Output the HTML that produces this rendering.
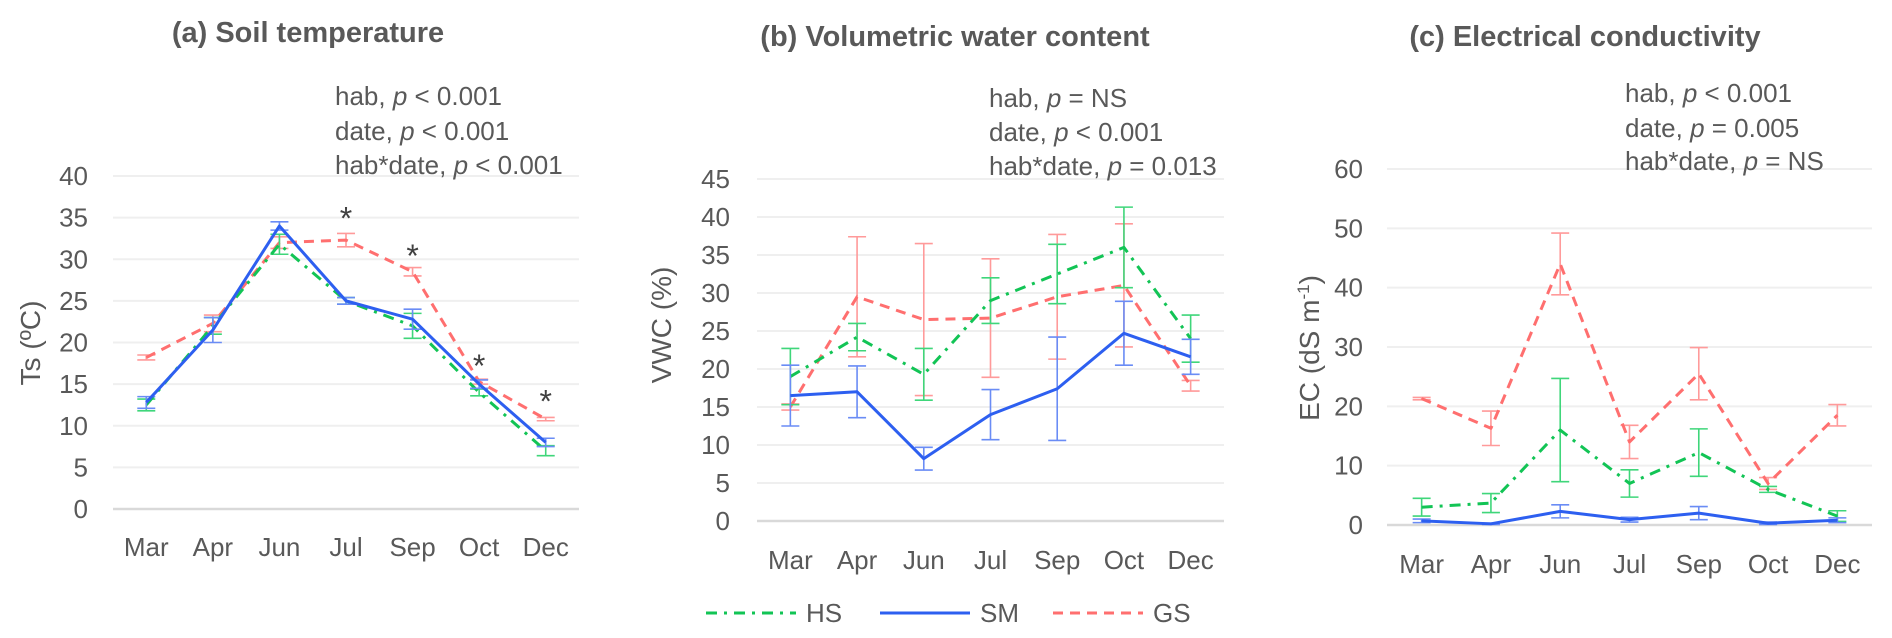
<!DOCTYPE html>
<html><head><meta charset="utf-8">
<style>
html,body{margin:0;padding:0;background:#fff;}
svg{display:block;font-family:"Liberation Sans",sans-serif;}
</style></head>
<body>
<svg id="fig" width="1892" height="638" viewBox="0 0 1892 638" xmlns="http://www.w3.org/2000/svg"></svg>
<script>
const months = ["Mar","Apr","Jun","Jul","Sep","Oct","Dec"];
// Panel a: soil temperature
const tsHS = [12.5,22,31.8,25,22,14,7];
const tsHSerr = [0.7,1,1.2,0.4,1.5,0.4,0.6];
const tsSM = [12.8,21.5,34,25,22.8,15,8];
const tsSMerr = [0.7,1.5,0.5,0.4,1.2,0.5,0.5];
const tsGS = [18.2,22.3,32,32.3,28.5,15.3,10.8];
const tsGSerr = [0.3,1,0.7,0.8,0.5,0.3,0.2];
const tsStars = [null,null,null,35.5,31,17.8,13.5];
const tsTicks = [0,5,10,15,20,25,30,35,40];
// Panel b: VWC
const vwcHS = [19,24.2,19.3,29,32.5,36,24];
const vwcHSerr = [3.7,1.8,3.4,3,3.9,5.3,3.1];
const vwcSM = [16.5,17,8.2,14,17.4,24.7,21.6];
const vwcSMerr = [4,3.4,1.5,3.3,6.8,4.2,2.3];
const vwcGS = [15,29.5,26.5,26.7,29.5,31,17.8];
const vwcGSerr = [0.4,7.9,10,7.8,8.2,8.1,0.7];
const vwcTicks = [0,5,10,15,20,25,30,35,40,45];
// Panel c: EC
const ecHS = [3,3.7,16,7,12.2,6,1.5];
const ecHSerr = [1.5,1.6,8.7,2.3,4,0.5,0.9];
const ecSM = [0.7,0.2,2.3,0.9,2,0.3,0.8];
const ecSMerr = [0.3,0.1,1.1,0.4,1.1,0.2,0.4];
const ecGS = [21.3,16.3,44,14,25.5,7,18.5];
const ecGSerr = [0.2,2.9,5.2,2.8,4.4,1,1.8];
const ecTicks = [0,10,20,30,40,50,60];
const legendKeys = ["HS","SM","GS"];

const NS = "http://www.w3.org/2000/svg";
const svg = document.getElementById("fig");
const TXT = "#595959";
const COL = {HS:"#12c455", SM:"#2d5ff0", GS:"#ff6f6f"};
const ERRCOL = {HS:"#3fd67a", SM:"#6a8cf5", GS:"#ff9a9a"};
const DASH = {HS:"11 7 3 7", SM:"", GS:"10 7"};
const FT = 26;

function mk(tag, attrs, parent){
  const e = document.createElementNS(NS, tag);
  for (const k in attrs) e.setAttribute(k, attrs[k]);
  (parent||svg).appendChild(e);
  return e;
}
const P = "<tspan font-style='italic'>p</tspan>";

function panel(cfg){
  const g = mk("g", {});
  
  
  const n = months.length;
  const step = (cfg.x1 - cfg.x0) / n;
  const xs = i => cfg.x0 + step * (i + 0.5);
  const ys = v => cfg.y0 - v * (cfg.y0 - cfg.yTop) / cfg.vmax;
  cfg.ticks.forEach(t => {
    const ln = mk("line", {x1:cfg.x0, x2:cfg.x1, y1:ys(t), y2:ys(t), stroke: t===0 ? "#d9d9d9" : "#efefef", "stroke-width": t===0 ? 2.5 : 2}, g);
    
    
    const tx = mk("text", {x: cfg.labelX, y: ys(t) + 9, "text-anchor":"end", "font-size":FT, fill:TXT}, g);
    tx.textContent = t;
    
    
  });
  months.forEach((m, i) => {
    const tx = mk("text", {x: xs(i), y: cfg.xLabY, "text-anchor":"middle", "font-size":FT, fill:TXT}, g);
    tx.textContent = m;
    
    
  });
  cfg.series.forEach(s => {
    const sg = mk("g", {}, g);
    
    
    s.vals.forEach((v, i) => {
      const x = xs(i), lo = ys(v - s.err[i]), hi = ys(v + s.err[i]);
      const eb = mk("path", {d:`M${x},${lo}V${hi}M${x-9},${lo}H${x+9}M${x-9},${hi}H${x+9}`, stroke:ERRCOL[s.key], "stroke-width":1.6, fill:"none"}, sg);
      
      
    });
    const pts = s.vals.map((v, i) => xs(i) + "," + ys(v)).join(" ");
    const pl = mk("polyline", {points: pts, fill:"none", stroke: COL[s.key], "stroke-width":3, "stroke-linejoin":"round"}, sg);
    if (DASH[s.key]) pl.setAttribute("stroke-dasharray", DASH[s.key]);
    
    
  });
  if (cfg.stars) cfg.stars.forEach((v, i) => {
    if (v === null) return;
    const st = mk("text", {x: xs(i), y: ys(v) + 16, "text-anchor":"middle", "font-size":32, fill:"#404040"}, g);
    st.textContent = "*";
    
    
  });
  const tt = mk("text", {x: cfg.titleX, y: cfg.titleY, "text-anchor":"middle", "font-size":29, "font-weight":"bold", fill:TXT}, g);
  tt.textContent = cfg.title;
  
  
  const yt = mk("text", {x:0, y:0, transform:`translate(${cfg.yTitleX},${cfg.yTitleY}) rotate(-90)`, "text-anchor":"middle", "font-size":28, fill:TXT}, g);
  yt.innerHTML = cfg.yTitle;
  
  
  cfg.notes.forEach((nt, k) => {
    const a = mk("text", {x: cfg.noteX, y: cfg.noteY[k], "font-size":FT, fill:TXT}, g);
    a.innerHTML = nt;
    
    
  });
}

panel({name:"panel-soil-temperature", x0:113, x1:579, y0:509, yTop:176, vmax:40, ticks:tsTicks, labelX:88, xLabY:556,
  series:[{key:"GS",vals:tsGS,err:tsGSerr},{key:"HS",vals:tsHS,err:tsHSerr},{key:"SM",vals:tsSM,err:tsSMerr}],
  stars: tsStars, title:"(a) Soil temperature", titleX:308, titleY:42,
  yTitle:"Ts (ºC)", yTitleX:40, yTitleY:343,
  notes:["hab, "+P+" &lt; 0.001","date, "+P+" &lt; 0.001","hab*date, "+P+" &lt; 0.001"],
  noteX:335, noteY:[105,140,174]});

panel({name:"panel-volumetric-water-content", x0:757, x1:1224, y0:521, yTop:179, vmax:45, ticks:vwcTicks, labelX:730, xLabY:569,
  series:[{key:"GS",vals:vwcGS,err:vwcGSerr},{key:"HS",vals:vwcHS,err:vwcHSerr},{key:"SM",vals:vwcSM,err:vwcSMerr}],
  stars: null, title:"(b) Volumetric water content", titleX:955, titleY:46,
  yTitle:"VWC (%)", yTitleX:671, yTitleY:325,
  notes:["hab, "+P+" = NS","date, "+P+" &lt; 0.001","hab*date, "+P+" = 0.013"],
  noteX:989, noteY:[107,141,175]});

panel({name:"panel-electrical-conductivity", x0:1387, x1:1872, y0:525, yTop:169, vmax:60, ticks:ecTicks, labelX:1363, xLabY:573,
  series:[{key:"GS",vals:ecGS,err:ecGSerr},{key:"HS",vals:ecHS,err:ecHSerr},{key:"SM",vals:ecSM,err:ecSMerr}],
  stars: null, title:"(c) Electrical conductivity", titleX:1585, titleY:46,
  yTitle:"EC (dS m<tspan dy='-10' font-size='17'>-1</tspan><tspan dy='10'>)</tspan>", yTitleX:1319, yTitleY:348,
  notes:["hab, "+P+" &lt; 0.001","date, "+P+" = 0.005","hab*date, "+P+" = NS"],
  noteX:1625, noteY:[102,137,170]});

const lg = mk("g", {});


const legX = [706, 880, 1053];
legendKeys.forEach((k, i) => {
  const ln = mk("line", {x1:legX[i], x2:legX[i]+90, y1:613, y2:613, stroke:COL[k], "stroke-width":3}, lg);
  if (DASH[k]) ln.setAttribute("stroke-dasharray", DASH[k]);
  
  
  const t = mk("text", {x:legX[i]+100, y:622, "font-size":FT, fill:TXT}, lg);
  t.textContent = k;
  
  
});
</script>
</body></html>
